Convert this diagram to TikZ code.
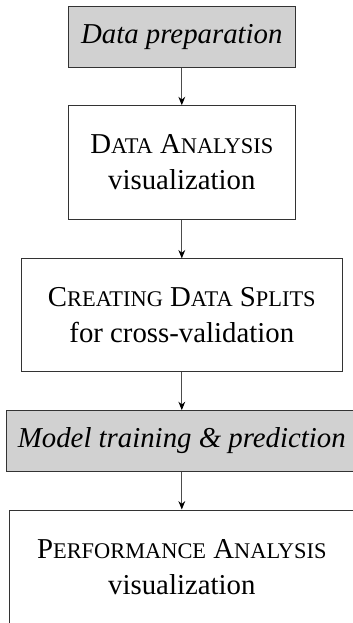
\documentclass[tikz,border=0pt]{standalone}
\usepackage{fontspec}
\setmainfont{Liberation Serif}
\usetikzlibrary{arrows.meta}

% small capitals built by hand: full-size initial, reduced capitals after it
\newcommand\scword[2]{#1{\fontsize{11.2pt}{18pt}\selectfont #2}}

\tikzset{
  stage/.style={draw=black!80, line width=0.5pt, inner sep=0pt, align=center,
    font=\fontsize{14.4pt}{18pt}\selectfont},
  shaded/.style={stage, fill=black!18, font=\fontsize{14.4pt}{18pt}\selectfont\itshape},
  flow/.style={draw=black!70, line width=0.5pt, -{Stealth[length=4.2pt,width=3.4pt,color=black]}}
}

\begin{document}
\begin{tikzpicture}[x=0.5pt, y=-0.5pt]
  \useasboundingbox (0,0) rectangle (353,623);

  \node[shaded, minimum width=113.5pt, minimum height=30.2pt] (prep) at (181.8,36.8)
    {Data preparation};
  \node[stage, minimum width=113.5pt, minimum height=56.7pt] (analysis) at (181.8,162.4)
    {\scword{D}{ATA} \scword{A}{NALYSIS}\\visualization};
  \node[stage, minimum width=160.2pt, minimum height=56.4pt] (splits) at (181.8,315.3)
    {\scword{C}{REATING} \scword{D}{ATA} \scword{S}{PLITS}\\for cross-validation};
  \node[shaded, minimum width=175.1pt, minimum height=30.2pt] (train) at (181.8,440.8)
    {Model training \& prediction};
  \node[stage, minimum width=172.5pt, minimum height=56.7pt] (perf) at (181.8,566.7)
    {\scword{P}{ERFORMANCE} \scword{A}{NALYSIS}\\visualization};

  \draw[flow] (prep) -- (analysis);
  \draw[flow] (analysis) -- (splits);
  \draw[flow] (splits) -- (train);
  \draw[flow] (train) -- (perf);
\end{tikzpicture}
\end{document}
